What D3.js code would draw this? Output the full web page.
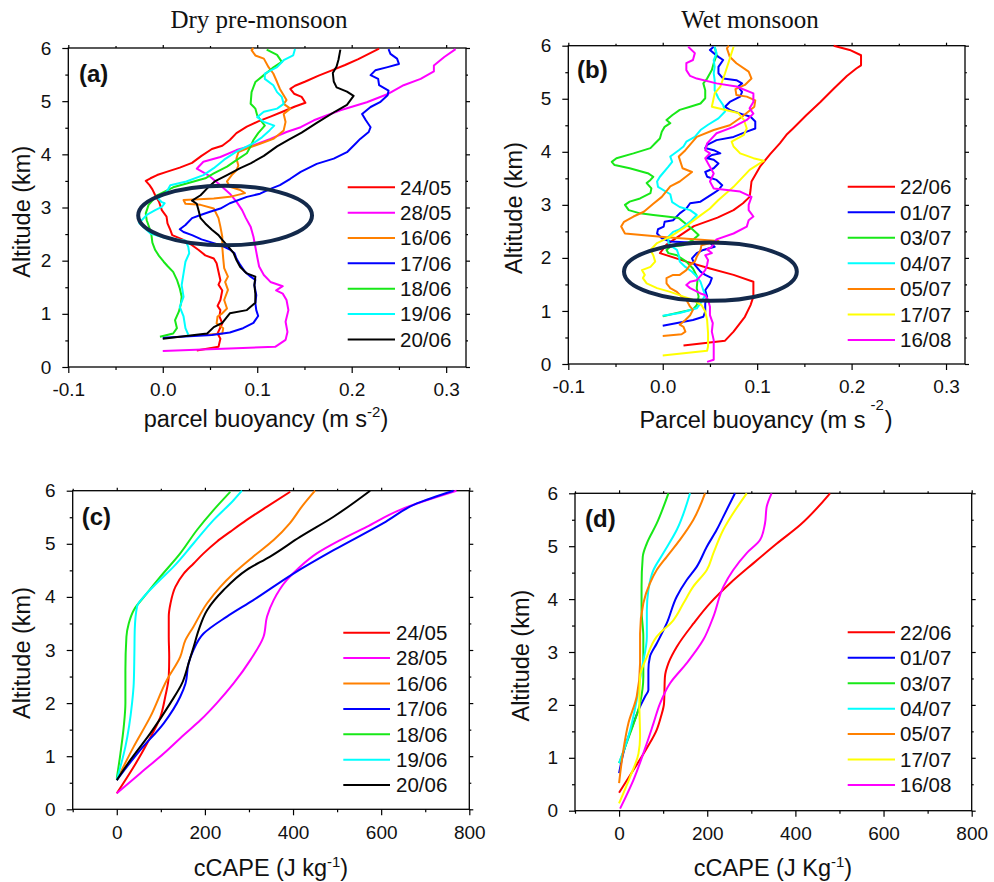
<!DOCTYPE html>
<html><head><meta charset="utf-8">
<script src="https://cdn.jsdelivr.net/npm/d3@7"></script>
<style>body{margin:0;background:#fff}</style>
</head><body>
<script>
// ---------------- DATA ----------------
const altMajor = [0,1,2,3,4,5,6];
const altMinor = [0.5,1.5,2.5,3.5,4.5,5.5];
const buoyMajor = [-0.1,0,0.1,0.2,0.3];
const buoyMinor = [-0.05,0.05,0.15,0.25];
const capeMajor = [0,200,400,600,800];
const capeMinor = [-100,100,300,500,700];

const dryDates = ['24/05','28/05','16/06','17/06','18/06','19/06','20/06'];
const wetDates = ['22/06','01/07','03/07','04/07','05/07','17/07','16/08'];

// parcel buoyancy (m s-2), altitude (km) — dry pre-monsoon
const buoyDry_2405 = [[0.036,0.31],[0.059,0.38],[0.061,0.53],[0.058,0.63],[0.063,0.82],[0.060,0.95],[0.061,1.07],[0.058,1.15],[0.061,1.26],[0.063,1.44],[0.059,1.55],[0.061,1.63],[0.059,1.79],[0.057,1.95],[0.054,2.04],[0.045,2.10],[0.038,2.20],[0.031,2.29],[0.022,2.39],[0.010,2.48],[0.008,2.58],[0.005,2.70],[0.004,2.83],[-0.001,2.95],[-0.004,3.11],[-0.008,3.23],[-0.011,3.34],[-0.014,3.42],[-0.018,3.50],[-0.013,3.55],[-0.006,3.61],[0.004,3.67],[0.018,3.75],[0.031,3.84],[0.041,3.97],[0.052,4.10],[0.063,4.16],[0.071,4.27],[0.078,4.40],[0.089,4.52],[0.101,4.62],[0.114,4.71],[0.128,4.81],[0.140,4.90],[0.151,4.97],[0.147,5.08],[0.139,5.14],[0.135,5.23],[0.140,5.29],[0.151,5.37],[0.165,5.48],[0.179,5.58],[0.193,5.68],[0.207,5.79],[0.229,5.99]];
const buoyDry_2805 = [[0.000,0.30],[0.119,0.38],[0.130,0.51],[0.132,0.66],[0.130,0.85],[0.133,1.07],[0.131,1.26],[0.127,1.38],[0.120,1.44],[0.127,1.52],[0.114,1.60],[0.107,1.73],[0.102,1.89],[0.100,2.07],[0.098,2.26],[0.096,2.45],[0.093,2.64],[0.088,2.80],[0.084,2.95],[0.078,3.11],[0.071,3.26],[0.061,3.42],[0.048,3.61],[0.036,3.73],[0.043,3.86],[0.061,3.95],[0.078,4.08],[0.096,4.17],[0.114,4.29],[0.131,4.42],[0.146,4.51],[0.160,4.64],[0.188,4.83],[0.216,4.98],[0.239,5.14],[0.255,5.30],[0.273,5.42],[0.287,5.56],[0.287,5.67],[0.298,5.83],[0.310,5.98]];
const buoyDry_1606 = [[0.043,0.60],[0.063,0.63],[0.064,0.73],[0.057,0.82],[0.058,0.95],[0.063,1.01],[0.068,1.10],[0.065,1.26],[0.069,1.45],[0.066,1.60],[0.069,1.70],[0.065,1.86],[0.064,2.04],[0.063,2.26],[0.063,2.45],[0.061,2.64],[0.059,2.80],[0.054,2.98],[0.040,3.05],[0.024,3.07],[0.022,3.14],[0.033,3.15],[0.054,3.17],[0.071,3.20],[0.087,3.27],[0.082,3.33],[0.071,3.39],[0.068,3.49],[0.073,3.61],[0.078,3.70],[0.080,3.79],[0.078,3.92],[0.080,4.04],[0.089,4.11],[0.103,4.20],[0.117,4.29],[0.128,4.45],[0.130,4.61],[0.128,4.76],[0.135,4.86],[0.128,4.95],[0.131,5.02],[0.124,5.23],[0.121,5.36],[0.117,5.52],[0.112,5.64],[0.107,5.80],[0.098,5.86],[0.094,5.96],[0.096,6.00]];
const buoyDry_1706 = [[0.000,0.55],[0.052,0.60],[0.071,0.65],[0.085,0.73],[0.096,0.83],[0.101,0.96],[0.099,1.07],[0.098,1.20],[0.099,1.35],[0.097,1.54],[0.098,1.64],[0.093,1.70],[0.087,1.79],[0.082,1.92],[0.078,2.04],[0.076,2.14],[0.071,2.21],[0.063,2.28],[0.054,2.33],[0.041,2.40],[0.031,2.48],[0.022,2.54],[0.018,2.59],[0.024,2.67],[0.031,2.80],[0.040,2.86],[0.050,2.92],[0.061,2.98],[0.071,3.08],[0.089,3.20],[0.103,3.26],[0.114,3.35],[0.124,3.42],[0.135,3.54],[0.146,3.67],[0.163,3.82],[0.181,3.92],[0.195,4.04],[0.204,4.20],[0.209,4.29],[0.218,4.42],[0.220,4.51],[0.215,4.64],[0.211,4.76],[0.220,4.89],[0.230,4.98],[0.238,5.11],[0.239,5.20],[0.229,5.30],[0.228,5.42],[0.220,5.49],[0.225,5.58],[0.238,5.64],[0.250,5.70],[0.248,5.80],[0.241,5.89],[0.239,5.98]];
const buoyDry_1806 = [[-0.003,0.57],[0.011,0.63],[0.015,0.73],[0.013,0.88],[0.017,1.04],[0.019,1.17],[0.020,1.32],[0.018,1.48],[0.015,1.64],[0.011,1.79],[0.005,1.90],[0.001,1.98],[-0.004,2.09],[-0.008,2.20],[-0.011,2.34],[-0.012,2.48],[-0.014,2.61],[-0.017,2.76],[-0.018,2.89],[-0.015,3.05],[-0.006,3.23],[0.011,3.38],[0.029,3.47],[0.045,3.55],[0.054,3.64],[0.068,3.77],[0.078,3.89],[0.089,4.02],[0.093,4.15],[0.096,4.27],[0.101,4.40],[0.108,4.54],[0.105,4.61],[0.100,4.73],[0.098,4.86],[0.093,4.95],[0.094,5.17],[0.098,5.36],[0.107,5.49],[0.116,5.62],[0.126,5.74],[0.121,5.87],[0.110,5.97]];
const buoyDry_1906 = [[0.027,0.61],[0.024,0.73],[0.022,0.95],[0.018,1.13],[0.022,1.32],[0.020,1.54],[0.022,1.76],[0.024,1.98],[0.028,2.14],[0.027,2.26],[0.024,2.38],[0.004,2.42],[-0.013,2.51],[-0.025,2.71],[-0.017,2.86],[-0.008,2.95],[-0.001,3.01],[0.002,3.08],[-0.001,3.10],[-0.005,3.17],[0.004,3.29],[0.008,3.42],[0.025,3.49],[0.043,3.61],[0.054,3.74],[0.065,3.90],[0.078,4.05],[0.095,4.20],[0.105,4.32],[0.113,4.45],[0.118,4.54],[0.107,4.61],[0.100,4.70],[0.107,4.80],[0.121,4.86],[0.128,4.95],[0.126,5.08],[0.121,5.17],[0.117,5.30],[0.108,5.42],[0.108,5.52],[0.121,5.64],[0.128,5.77],[0.138,5.86],[0.140,5.98]];
const buoyDry_2006 = [[0.000,0.53],[0.047,0.63],[0.054,0.75],[0.063,0.83],[0.071,1.01],[0.089,1.07],[0.098,1.21],[0.098,1.38],[0.097,1.54],[0.098,1.70],[0.089,1.76],[0.082,1.88],[0.078,2.01],[0.075,2.14],[0.070,2.25],[0.063,2.39],[0.059,2.48],[0.052,2.58],[0.045,2.70],[0.040,2.80],[0.038,2.94],[0.036,3.07],[0.031,3.13],[0.040,3.23],[0.047,3.36],[0.055,3.49],[0.068,3.61],[0.082,3.74],[0.093,3.83],[0.107,3.97],[0.121,4.15],[0.133,4.27],[0.147,4.41],[0.163,4.59],[0.183,4.81],[0.195,4.93],[0.202,5.10],[0.195,5.18],[0.184,5.26],[0.181,5.37],[0.180,5.53],[0.184,5.65],[0.186,5.78],[0.188,5.97]];

// wet monsoon
const buoyWet_2206 = [[0.022,0.35],[0.066,0.44],[0.075,0.61],[0.087,0.89],[0.093,1.11],[0.096,1.27],[0.096,1.55],[0.075,1.68],[0.050,1.80],[0.025,1.93],[-0.003,2.09],[0.004,2.25],[0.018,2.42],[0.033,2.60],[0.058,2.76],[0.075,2.90],[0.085,3.03],[0.092,3.15],[0.093,3.28],[0.094,3.44],[0.103,3.72],[0.114,3.96],[0.124,4.16],[0.131,4.32],[0.138,4.44],[0.152,4.69],[0.167,4.94],[0.181,5.19],[0.195,5.43],[0.205,5.57],[0.210,5.63],[0.210,5.82],[0.198,5.92],[0.181,6.00]];
const buoyWet_0107 = [[0.000,0.72],[0.032,0.83],[0.043,0.89],[0.045,0.99],[0.045,1.14],[0.047,1.27],[0.045,1.39],[0.050,1.52],[0.052,1.62],[0.045,1.68],[0.040,1.74],[0.034,1.87],[0.031,1.99],[0.036,2.09],[0.043,2.15],[0.055,2.21],[0.050,2.28],[0.029,2.29],[0.008,2.31],[-0.001,2.37],[-0.006,2.46],[-0.005,2.54],[0.001,2.59],[0.002,2.68],[0.011,2.71],[0.018,2.84],[0.025,2.93],[0.029,3.03],[0.040,3.06],[0.054,3.22],[0.059,3.28],[0.063,3.37],[0.057,3.47],[0.047,3.53],[0.045,3.62],[0.054,3.69],[0.059,3.78],[0.054,3.85],[0.047,3.88],[0.052,3.94],[0.061,3.97],[0.054,4.03],[0.045,4.07],[0.047,4.13],[0.057,4.22],[0.075,4.28],[0.089,4.38],[0.098,4.44],[0.098,4.57],[0.093,4.66],[0.084,4.71],[0.071,4.79],[0.066,4.85],[0.071,4.94],[0.082,5.04],[0.084,5.13],[0.080,5.23],[0.084,5.29],[0.078,5.35],[0.064,5.38],[0.059,5.48],[0.059,5.60],[0.064,5.73],[0.059,5.79],[0.054,5.86],[0.050,5.92],[0.054,5.98]];
const buoyWet_0307 = [[0.000,0.90],[0.022,0.99],[0.032,1.03],[0.036,1.11],[0.038,1.27],[0.036,1.43],[0.037,1.62],[0.032,1.80],[0.025,1.93],[0.015,2.05],[0.006,2.09],[0.004,2.15],[0.008,2.21],[0.022,2.24],[0.032,2.34],[0.038,2.43],[0.032,2.53],[0.024,2.65],[0.017,2.75],[0.004,2.78],[-0.010,2.81],[-0.024,2.84],[-0.036,2.90],[-0.040,3.00],[-0.035,3.06],[-0.024,3.12],[-0.013,3.22],[-0.012,3.31],[-0.017,3.41],[-0.013,3.47],[-0.010,3.53],[-0.015,3.59],[-0.035,3.69],[-0.051,3.75],[-0.054,3.81],[-0.049,3.88],[-0.031,3.97],[-0.013,4.07],[-0.008,4.16],[-0.003,4.25],[-0.001,4.38],[0.002,4.47],[0.008,4.54],[0.004,4.60],[0.010,4.69],[0.018,4.79],[0.029,4.85],[0.040,4.91],[0.045,5.01],[0.045,5.16],[0.043,5.29],[0.047,5.38],[0.052,5.54],[0.054,5.67],[0.057,5.82],[0.055,5.98]];
const buoyWet_0407 = [[0.000,0.91],[0.018,0.96],[0.036,1.05],[0.041,1.17],[0.045,1.30],[0.043,1.39],[0.040,1.55],[0.036,1.65],[0.031,1.74],[0.024,1.83],[0.018,1.93],[0.017,2.05],[0.015,2.15],[0.010,2.21],[0.006,2.28],[0.006,2.40],[0.011,2.49],[0.017,2.53],[0.022,2.59],[0.030,2.70],[0.036,2.81],[0.029,2.90],[0.018,2.96],[0.010,3.05],[0.008,3.20],[-0.005,3.34],[-0.006,3.44],[-0.003,3.53],[0.006,3.72],[0.010,3.81],[0.008,3.91],[0.017,4.03],[0.022,4.10],[0.025,4.19],[0.034,4.28],[0.040,4.41],[0.048,4.51],[0.059,4.63],[0.066,4.76],[0.064,4.88],[0.059,5.01],[0.055,5.16],[0.055,5.35],[0.054,5.48],[0.055,5.60],[0.054,5.73],[0.057,5.86],[0.055,5.98]];
const buoyWet_0507 = [[0.000,0.53],[0.020,0.56],[0.024,0.61],[0.022,0.70],[0.018,0.74],[0.024,0.83],[0.029,0.92],[0.032,1.02],[0.029,1.08],[0.025,1.21],[0.020,1.27],[0.015,1.36],[0.008,1.43],[0.004,1.52],[0.004,1.62],[0.011,1.68],[0.018,1.68],[0.025,1.77],[0.029,1.87],[0.034,1.93],[0.036,2.02],[0.040,2.15],[0.041,2.24],[0.059,2.32],[0.004,2.39],[-0.040,2.46],[-0.044,2.59],[-0.041,2.68],[-0.031,2.78],[-0.020,2.87],[-0.010,3.02],[-0.001,3.15],[0.008,3.35],[0.018,3.44],[0.031,3.62],[0.021,3.69],[0.017,3.91],[0.024,4.03],[0.036,4.28],[0.054,4.41],[0.071,4.50],[0.084,4.66],[0.097,4.85],[0.098,4.97],[0.089,5.04],[0.078,5.07],[0.077,5.18],[0.087,5.26],[0.094,5.38],[0.091,5.51],[0.078,5.67],[0.071,5.79],[0.068,5.95],[0.070,6.00]];
const buoyWet_1707 = [[0.000,0.16],[0.047,0.25],[0.048,0.33],[0.048,0.58],[0.047,0.83],[0.045,0.99],[0.041,1.11],[0.032,1.21],[0.022,1.27],[0.008,1.36],[-0.006,1.43],[-0.017,1.52],[-0.021,1.62],[-0.019,1.68],[-0.022,1.77],[-0.013,1.83],[-0.008,1.93],[-0.010,2.05],[-0.013,2.15],[-0.006,2.28],[0.008,2.40],[0.022,2.56],[0.036,2.75],[0.050,2.93],[0.059,3.09],[0.075,3.34],[0.092,3.66],[0.107,3.83],[0.096,3.88],[0.082,3.97],[0.075,4.10],[0.073,4.19],[0.086,4.32],[0.089,4.44],[0.086,4.60],[0.080,4.73],[0.052,4.85],[0.055,5.10],[0.061,5.23],[0.066,5.48],[0.070,5.70],[0.075,5.98]];
const buoyWet_1608 = [[0.047,0.04],[0.054,0.08],[0.054,0.23],[0.054,0.45],[0.052,0.61],[0.053,0.77],[0.050,0.92],[0.050,1.08],[0.048,1.21],[0.045,1.30],[0.040,1.33],[0.029,1.43],[0.025,1.49],[0.029,1.55],[0.036,1.58],[0.041,1.68],[0.045,1.77],[0.047,1.87],[0.048,1.96],[0.045,2.05],[0.052,2.09],[0.047,2.16],[0.052,2.21],[0.057,2.35],[0.075,2.46],[0.089,2.59],[0.091,2.71],[0.096,2.78],[0.091,2.90],[0.091,3.00],[0.094,3.15],[0.082,3.25],[0.068,3.28],[0.054,3.31],[0.050,3.44],[0.054,3.59],[0.048,3.78],[0.045,3.88],[0.050,3.97],[0.045,4.03],[0.047,4.16],[0.057,4.35],[0.075,4.47],[0.089,4.60],[0.096,4.72],[0.092,4.82],[0.096,4.94],[0.096,5.10],[0.078,5.23],[0.057,5.29],[0.036,5.38],[0.029,5.43],[0.025,5.54],[0.025,5.67],[0.032,5.73],[0.034,5.86],[0.027,5.98]];

// cCAPE (J kg-1), altitude (km) — dry pre-monsoon
const capeDry_2405 = [[0,0.30],[38.5,0.80],[68.7,1.24],[99,1.74],[110,2.12],[118,2.50],[119,2.87],[118,3.25],[118,3.63],[122,3.88],[133,4.19],[152,4.44],[174.5,4.63],[197,4.82],[227,5.04],[258,5.23],[295,5.45],[341,5.70],[393.6,5.98]];
const capeDry_2805 = [[0,0.30],[53.6,0.68],[106.5,1.05],[152,1.40],[190,1.68],[227,2.00],[265,2.37],[303,2.81],[333,3.25],[341,3.63],[356,3.94],[386,4.32],[416,4.57],[454,4.82],[507,5.07],[567,5.32],[643,5.64],[703,5.82],[771,6.00]];
const capeDry_1606 = [[0,0.55],[38.5,1.18],[76,1.74],[114,2.44],[144,2.87],[156,3.19],[174,3.44],[205,3.88],[235,4.19],[265,4.44],[310,4.76],[356,5.07],[393,5.39],[420,5.70],[450,6.00]];
const capeDry_1706 = [[0,0.55],[53.6,1.12],[106.5,1.62],[144,2.12],[156,2.37],[163,2.75],[174,3.00],[197,3.31],[250,3.63],[310,3.94],[401,4.44],[492,4.88],[605,5.39],[681,5.76],[764,6.00]];
const capeDry_1806 = [[0,0.58],[8.3,1.05],[15.9,1.56],[19.6,2.00],[19.6,2.62],[21.9,3.25],[27.2,3.50],[38.5,3.75],[68.7,4.07],[99,4.38],[144,4.82],[182,5.26],[220,5.64],[257.6,5.98]];
const capeDry_1906 = [[0,0.55],[19.6,1.18],[34.7,2.00],[38.5,2.37],[40,2.94],[40.8,3.38],[46,3.82],[61,4.00],[91,4.26],[129,4.57],[174.5,5.01],[220,5.45],[265,5.82],[284,6.00]];
const capeDry_2006 = [[0,0.55],[31,0.93],[76,1.43],[121.6,2.00],[148,2.37],[163,2.75],[174.5,3.06],[186,3.38],[205,3.75],[242.5,4.13],[295,4.51],[348,4.76],[416,5.13],[492,5.51],[575,6.00]];

// cCAPE — wet monsoon
const capeWet_2206 = [[0,0.34],[32.5,0.77],[62.8,1.18],[85.4,1.53],[95,1.78],[102,2.03],[104,2.53],[112,2.79],[131,3.10],[169,3.54],[206,3.92],[252,4.30],[305,4.68],[358,5.05],[410.6,5.40],[478.6,6.00]];
const capeWet_0107 = [[0,0.71],[13.6,1.21],[32.5,1.65],[47.6,1.97],[59,2.16],[66.5,2.28],[66.5,2.66],[70,2.91],[85.4,3.16],[108,3.54],[131,4.05],[153.5,4.36],[176,4.61],[199,4.99],[221.5,5.31],[236.5,5.56],[263,6.00]];
const capeWet_0307 = [[0,0.90],[25,1.46],[47.6,2.03],[55,2.53],[55,3.29],[51,3.79],[51,4.24],[53.7,4.80],[62.8,5.05],[85.4,5.43],[112,6.00]];
const capeWet_0407 = [[0,0.90],[21,1.40],[40,2.09],[51,2.66],[63,3.29],[63,3.79],[66.5,4.17],[78,4.55],[100.5,4.87],[131,5.31],[161,6.00]];
const capeWet_0507 = [[0,0.52],[9.8,1.15],[21,1.65],[40,2.16],[47.6,2.79],[47.6,3.35],[55,3.92],[70,4.30],[85.4,4.55],[108,4.80],[138,5.12],[168.6,5.50],[195,6.00]];
const capeWet_1707 = [[0,0.14],[25,0.64],[44,1.08],[47.6,1.40],[46,2.03],[47.6,2.53],[63,2.91],[85.4,3.29],[123,3.60],[146,3.92],[168.6,4.24],[199,4.55],[214,4.87],[236.5,5.31],[289.6,6.00]];
const capeWet_1608 = [[2.3,0.04],[32.5,0.58],[62.8,1.27],[78,1.65],[93,2.03],[115.7,2.41],[153.5,2.79],[191,3.23],[214,3.67],[237,4.24],[259,4.55],[289.6,4.87],[320,5.12],[331,5.43],[335,5.75],[346,6.00]];

// highlighted regions: [centre buoyancy, centre altitude, half-width, half-height]
const ellipseDry = [0.066, 2.85, 0.092, 0.56];
const ellipseWet = [0.0505, 1.74, 0.0915, 0.55];

// ---------------- STYLE / LAYOUT ----------------
const dryColors = ['#ff0000','#ff00ff','#ff8000','#0000ff','#18e818','#00ffff','#000000'];
const wetColors = ['#ff0000','#0000ff','#18e818','#00ffff','#ff8000','#ffff00','#ff00ff'];
const SANS = '"Liberation Sans", Arial, Helvetica, sans-serif';
const SERIF = '"Liberation Serif", "Times New Roman", serif';

const svg = d3.select('body').append('svg').attr('width',994).attr('height',882)
  .style('background','#fff');

function drawPanel(cfg) {
  const g = svg.append('g');
  const {l,r,t,b} = cfg.box;
  const x = d3.scaleLinear().domain(cfg.xDomain).range([l,r]);
  const y = d3.scaleLinear().domain([0,6]).range([b,t]);

  const ax = (sel) => { sel.select('.domain').remove(); sel.selectAll('line').attr('stroke','#000').attr('stroke-width',1.2);
    sel.selectAll('text').attr('font-family',SANS).attr('font-size',19).attr('fill','#111'); };

  g.append('g').attr('transform',`translate(${l},0)`)
    .call(d3.axisLeft(y).tickValues(altMajor).tickSize(6).tickPadding(11).tickFormat(d3.format('d'))).call(ax);
  g.append('g').attr('transform',`translate(${l},0)`)
    .call(d3.axisLeft(y).tickValues(altMinor).tickSize(3).tickFormat('')).call(ax);
  g.append('g').attr('transform',`translate(${r},0)`)
    .call(d3.axisRight(y).tickValues(altMajor).tickSize(4).tickFormat('')).call(ax);
  g.append('g').attr('transform',`translate(${r},0)`)
    .call(d3.axisRight(y).tickValues(altMinor).tickSize(2).tickFormat('')).call(ax);
  g.append('g').attr('transform',`translate(0,${b})`)
    .call(d3.axisBottom(x).tickValues(cfg.xMajor).tickSize(6).tickPadding(10).tickFormat(cfg.xFormat)).call(ax);
  g.append('g').attr('transform',`translate(0,${b})`)
    .call(d3.axisBottom(x).tickValues(cfg.xMinor).tickSize(3).tickFormat('')).call(ax);
  g.append('g').attr('transform',`translate(0,${t})`)
    .call(d3.axisTop(x).tickValues(cfg.xMajor).tickSize(3).tickFormat('')).call(ax);
  g.append('g').attr('transform',`translate(0,${t})`)
    .call(d3.axisTop(x).tickValues(cfg.xMinor).tickSize(2).tickFormat('')).call(ax);

  g.append('rect').attr('x',l).attr('y',t).attr('width',r-l).attr('height',b-t)
    .attr('fill','none').attr('stroke','#000').attr('stroke-width',1.3);

  const line = d3.line().x(d=>x(d[0])).y(d=>y(d[1])).curve(cfg.curve);
  cfg.series.forEach((s,i) => {
    g.append('path').datum(s).attr('d',line).attr('fill','none')
      .attr('stroke',cfg.colors[i]).attr('stroke-width',2).attr('stroke-linejoin','round');
  });

  if (cfg.ellipse) {
    const [cx,cy,rx,ry] = cfg.ellipse;
    g.append('ellipse').attr('cx',x(cx)).attr('cy',y(cy))
      .attr('rx',x(cx+rx)-x(cx)).attr('ry',y(cy)-y(cy+ry))
      .attr('fill','none').attr('stroke','#13294b').attr('stroke-width',4);
  }

  // legend
  const L = cfg.legend;
  cfg.labels.forEach((lab,i) => {
    const yy = L.y0 + i*L.dy;
    g.append('line').attr('x1',L.x1).attr('x2',L.x2).attr('y1',yy).attr('y2',yy)
      .attr('stroke',cfg.colors[i]).attr('stroke-width',2);
    g.append('text').attr('x',L.tx).attr('y',yy).attr('dy','0.36em')
      .attr('font-family',SANS).attr('font-size',20.5).attr('fill','#111').text(lab);
  });

  // panel label
  g.append('text').attr('x',cfg.tag[0]).attr('y',cfg.tag[1]).attr('font-family',SANS)
    .attr('font-weight','bold').attr('font-size',24).attr('fill','#111').text(cfg.tagText);

  // y title
  g.append('text').attr('transform',`translate(${cfg.yTitle[0]},${cfg.yTitle[1]}) rotate(-90)`)
    .attr('text-anchor','middle').attr('dy','0.35em').attr('font-family',SANS).attr('font-size',23.5)
    .attr('fill','#111').text('Altitude (km)');

  // x title
  const xt = g.append('text').attr('x',cfg.xTitle.x).attr('y',cfg.xTitle.y).attr('text-anchor','middle')
    .attr('font-family',SANS).attr('font-size',23.5).attr('fill','#111');
  xt.append('tspan').text(cfg.xTitle.main);
  xt.append('tspan').attr('dx',cfg.xTitle.supDx).attr('dy',-cfg.xTitle.supUp).attr('font-size',15).text(cfg.xTitle.sup);
  xt.append('tspan').attr('dx',cfg.xTitle.closeDx).attr('dy',cfg.xTitle.supUp).text(')');

  if (cfg.title) {
    svg.append('text').attr('x',cfg.title[0]).attr('y',cfg.title[1]).attr('text-anchor','middle')
      .attr('font-family',SERIF).attr('font-size',25).attr('fill','#111').text(cfg.titleText);
  }
}

const fmtBuoy = d => d.toFixed(1);
const fmtCape = d => String(d);

drawPanel({
  box:{l:68.3,r:466,t:48,b:367}, xDomain:[-0.1,0.321], xMajor:buoyMajor, xMinor:buoyMinor, xFormat:fmtBuoy,
  series:[buoyDry_2405,buoyDry_2805,buoyDry_1606,buoyDry_1706,buoyDry_1806,buoyDry_1906,buoyDry_2006],
  colors:dryColors, labels:dryDates, curve:d3.curveLinear, ellipse:ellipseDry,
  legend:{x1:347.7,x2:395,tx:400,y0:187.3,dy:25.35},
  tag:[79,82], tagText:'(a)', yTitle:[22,211.7],
  xTitle:{x:266,y:427,main:'parcel buoyancy (m s',sup:'-2',supUp:10,supDx:0,closeDx:0},
  title:[259,28], titleText:'Dry pre-monsoon'
});
drawPanel({
  box:{l:568.3,r:965,t:45.7,b:364}, xDomain:[-0.1,0.3201], xMajor:buoyMajor, xMinor:buoyMinor, xFormat:fmtBuoy,
  series:[buoyWet_2206,buoyWet_0107,buoyWet_0307,buoyWet_0407,buoyWet_0507,buoyWet_1707,buoyWet_1608],
  colors:wetColors, labels:wetDates, curve:d3.curveLinear, ellipse:ellipseWet,
  legend:{x1:847.7,x2:895,tx:900,y0:186.7,dy:25.55},
  tag:[577,78], tagText:'(b)', yTitle:[514,208],
  xTitle:{x:766,y:428,main:'Parcel buoyancy (m s',sup:'-2',supUp:18,supDx:5,closeDx:1},
  title:[750,28], titleText:'Wet monsoon'
});
drawPanel({
  box:{l:72.7,r:469.3,t:490.7,b:809.3}, xDomain:[-100,800], xMajor:capeMajor, xMinor:capeMinor, xFormat:fmtCape,
  series:[capeDry_2405,capeDry_2805,capeDry_1606,capeDry_1706,capeDry_1806,capeDry_1906,capeDry_2006],
  colors:dryColors, labels:dryDates, curve:d3.curveMonotoneY,
  legend:{x1:343.3,x2:390,tx:396,y0:632.7,dy:25.4},
  tag:[81.7,525], tagText:'(c)', yTitle:[21.7,653],
  xTitle:{x:271,y:876,main:'cCAPE (J kg',sup:'-1',supUp:9,supDx:0,closeDx:0}
});
drawPanel({
  box:{l:575,r:971.7,t:493.3,b:810.7}, xDomain:[-100,800], xMajor:capeMajor, xMinor:capeMinor, xFormat:fmtCape,
  series:[capeWet_2206,capeWet_0107,capeWet_0307,capeWet_0407,capeWet_0507,capeWet_1707,capeWet_1608],
  colors:wetColors, labels:wetDates, curve:d3.curveMonotoneY,
  legend:{x1:847.7,x2:895,tx:900,y0:632.3,dy:25.45},
  tag:[585,527], tagText:'(d)', yTitle:[521,655.6],
  xTitle:{x:773,y:876,main:'cCAPE (J Kg',sup:'-1',supUp:9,supDx:0,closeDx:0}
});
</script>
</body></html>
